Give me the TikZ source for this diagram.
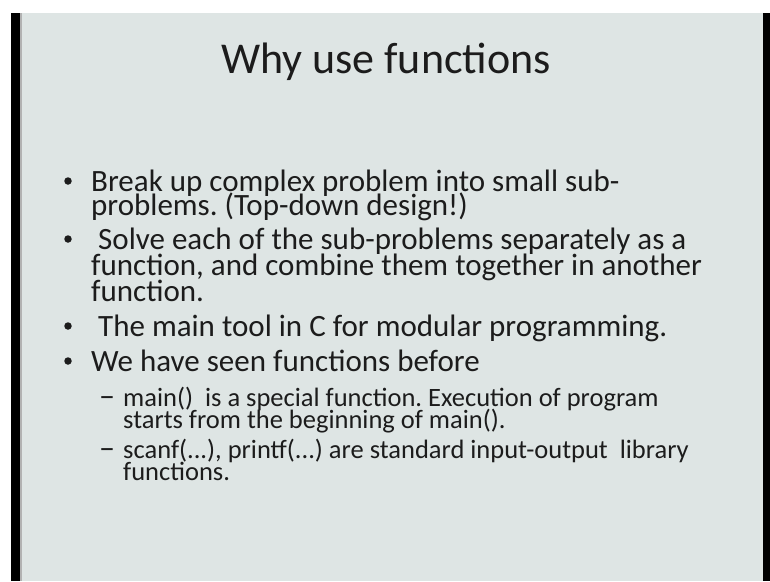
\documentclass[tikz,border=0pt]{standalone}
\usepackage{fontspec}
\setmainfont{Carlito}
\frenchspacing
\definecolor{slidebg}{HTML}{DEE5E4}
\definecolor{inkc}{HTML}{1C1C1C}
\lineskiplimit=-100pt
\newcommand\tightlines{\lineskiplimit=-100pt\relax}
\tikzset{
  titletext/.style={anchor=base,inner sep=0pt,text=inkc,font=\fontsize{44}{48}\selectfont},
  bodytext/.style={anchor=base west,inner sep=0pt,text=inkc,text width=680pt,align=flush left,
    font=\fontsize{31}{#1}\selectfont\tightlines},
  bodytext/.default=24,
  subtext/.style={anchor=base west,inner sep=0pt,text=inkc,text width=640pt,align=flush left,
    font=\fontsize{26.5}{22}\selectfont\tightlines},
  dashtext/.style={anchor=base west,inner sep=0pt,text=inkc,font=\fontsize{32}{34}\selectfont},
  bulletdot/.style={circle,fill=inkc,inner sep=0pt,minimum size=7.5pt}}
\begin{document}
\begin{tikzpicture}[x=1pt,y=-1pt]
\useasboundingbox (0,0) rectangle (770,581);
\fill[white] (0,0) rectangle (770,581);
\fill[black] (11,13) rectangle (20,581);
\fill[black] (763,13) rectangle (770,581);
\fill[slidebg] (20,13) rectangle (763,581);
\fill[gray!60] (20,13) rectangle (21.5,581);
% title
\node[titletext] (title) at (386,73) {Why use functions};
% bullets
\node[bulletdot] (b1) at (68,181) {};
\node[bodytext=24] (p1) at (91,191) {Break up complex problem into small sub-\\problems. (Top-down design!)};
\node[bulletdot] (b2) at (68,239) {};
\node[bodytext=26] (p2) at (91,249) {\ Solve each of the sub-problems separately as a\\function, and combine them together in another\\function.};
\node[bulletdot] (b3) at (68,326) {};
\node[bodytext] (p3) at (91,336) {\ The main tool in C for modular programming.};
\node[bulletdot] (b4) at (68,361) {};
\node[bodytext] (p4) at (91,371) {We have seen functions before};
\node[dashtext] (d1) at (99,406) {–};
\node[subtext] (s1) at (123,406) {main()\ \ is a special function. Execution of program\\starts from the beginning of main().};
\node[dashtext] (d2) at (99,458) {–};
\node[subtext] (s2) at (123,458) {scanf(...), printf(...) are standard input-output\ \ library\\functions.};
\end{tikzpicture}
\end{document}
